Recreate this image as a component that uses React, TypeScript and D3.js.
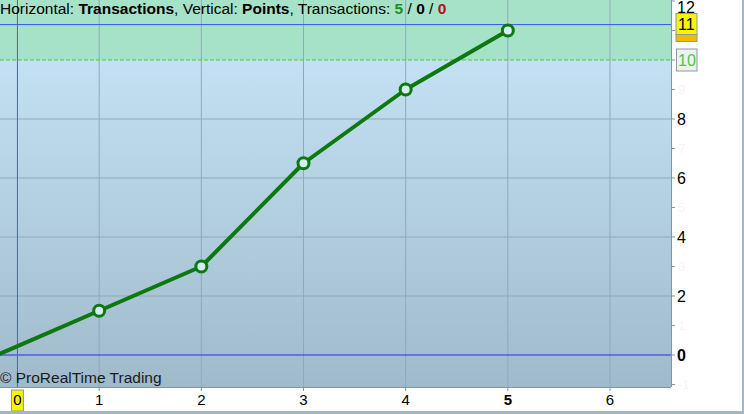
import React from "react";
import * as d3 from "d3";

const transactions = [0, 1, 2, 3, 4, 5];
const points = [0, 1.5, 3, 6.5, 9, 11];
const xTicks = [1, 2, 3, 4, 5, 6];
const yTicks = [0, 2, 4, 6, 8, 10, 11, 12];
const yMinorTicks = [-1, 1, 3, 5, 7, 9];
const zoneLevel = 10;
const maxLevel = 11.2;
const zeroLevel = 0;
const cursorX = 0.2;
const cursorLabel = "0";
const boldX = 5;

const W = 744;
const H = 414;
const plotR = 671;
const plotB = 387;

export default function App() {
  const x = d3.scaleLinear().domain([0, 6]).range([-3, 610]);
  const y = d3.scaleLinear().domain([0, 12]).range([355, 1]);
  const line = d3
    .line<number>()
    .x((_, i) => x(transactions[i]))
    .y((d) => y(d));
  const font = "'Liberation Sans', Arial, sans-serif";

  return (
    <div style={{ position: "fixed", left: 0, top: 0 }}>
      <svg width={W} height={H} style={{ display: "block", fontFamily: font }}>
        <defs>
          <linearGradient id="bg" x1="0" y1="0" x2="0" y2="1">
            <stop offset="0" stopColor="#cae8fa" />
            <stop offset="1" stopColor="#9fbacb" />
          </linearGradient>
          <clipPath id="plot">
            <rect x={0} y={0} width={plotR} height={plotB} />
          </clipPath>
        </defs>
        <rect x={0} y={0} width={W} height={H} fill="#ffffff" />
        <g clipPath="url(#plot)">
          <rect x={0} y={0} width={plotR} height={plotB} fill="url(#bg)" />
          <rect x={0} y={0} width={plotR} height={y(zoneLevel)} fill="#a6e2c8" />
          {[2, 4, 6, 8].map((v) => (
            <line key={"h" + v} x1={0} x2={plotR} y1={y(v)} y2={y(v)} stroke="#8ea9b9" strokeWidth={1} />
          ))}
          {xTicks.map((v) => (
            <line key={"v" + v} x1={x(v)} x2={x(v)} y1={0} y2={plotB} stroke="#8ea9b9" strokeWidth={1} />
          ))}
          <line x1={0} x2={plotR} y1={y(zoneLevel)} y2={y(zoneLevel)} stroke="#3fcf3f" strokeWidth={1} strokeDasharray="4,2" />
          <line x1={0} x2={plotR} y1={y(maxLevel)} y2={y(maxLevel)} stroke="#3355ee" strokeWidth={1} />
          <line x1={0} x2={plotR} y1={y(zeroLevel)} y2={y(zeroLevel)} stroke="#2a2aee" strokeWidth={1} />
          <line x1={x(cursorX)} x2={x(cursorX)} y1={0} y2={plotB} stroke="#4d6a98" strokeWidth={1} />
          <path d={line(points) || ""} fill="none" stroke="#0d780d" strokeWidth={4} strokeLinejoin="round" />
          {points.slice(1).map((v, i) => (
            <circle key={i} cx={x(transactions[i + 1])} cy={y(v)} r={5.5} fill="#d6ecf7" stroke="#0d780d" strokeWidth={3} />
          ))}
          <text x={0} y={383} fontSize={15.5} fill="#1a1a1a">© ProRealTime Trading</text>
          <text x={0} y={14} fontSize={15.5} fill="#000">
            <tspan>Horizontal: </tspan>
            <tspan fontWeight="bold">Transactions</tspan>
            <tspan>, Vertical: </tspan>
            <tspan fontWeight="bold">Points</tspan>
            <tspan>, Transactions: </tspan>
            <tspan fontWeight="bold" fill="#1f8f1f">5</tspan>
            <tspan> / </tspan>
            <tspan fontWeight="bold">0</tspan>
            <tspan> / </tspan>
            <tspan fontWeight="bold" fill="#b01010">0</tspan>
          </text>
        </g>
        <line x1={plotR + 0.5} x2={plotR + 0.5} y1={0} y2={plotB} stroke="#7d97a6" strokeWidth={1} />
        <line x1={0} x2={plotR} y1={plotB + 0.5} y2={plotB + 0.5} stroke="#7d97a6" strokeWidth={1} />
        {d3.range(-1, 13).map((v) => (
          <line key={"t" + v} x1={plotR} x2={plotR + 4} y1={y(v)} y2={y(v)} stroke="#7d97a6" strokeWidth={1} />
        ))}
        {yMinorTicks.map((v) => (
          <text key={"m" + v} x={678} y={y(v)} dy="0.35em" fontSize={13} fill="#f3f5f6">
            {v}
          </text>
        ))}
        {yTicks
          .filter((v) => v !== 11 && v !== 10)
          .map((v) => (
            <text key={"l" + v} x={677} y={v === 12 ? y(v) + 6 : y(v)} dy="0.36em" fontSize={16} fontWeight={v === 0 ? "bold" : "normal"} fill="#000">
              {v}
            </text>
          ))}
        <rect x={676} y={y(11) - 17} width={21} height={21} fill="#f9f400" stroke="#8a9aa0" />
        <rect x={676} y={y(11) + 4} width={21} height={7} fill="#f0bb00" stroke="#8a9aa0" />
        <text x={678} y={y(11) - 6} dy="0.36em" fontSize={16} fill="#000">11</text>
        <rect x={676.5} y={y(10) - 11} width={20.5} height={22} fill="#f0f0f0" stroke="#8a9aa0" />
        <text x={678} y={y(10)} dy="0.36em" fontSize={16} fill="#44cc44">10</text>
        {xTicks.map((v) => (
          <g key={"x" + v}>
            <line x1={x(v)} x2={x(v)} y1={plotB} y2={plotB + 4} stroke="#7d97a6" />
            <text x={x(v)} y={405} textAnchor="middle" fontSize={15} fontWeight={v === boldX ? "bold" : "normal"} fill="#000">
              {v}
            </text>
          </g>
        ))}
        <rect x={x(cursorX) - 6} y={390} width={12} height={21} fill="#f9f400" stroke="#8a9aa0" />
        <text x={x(cursorX)} y={405} textAnchor="middle" fontSize={15} fill="#000">{cursorLabel}</text>
        <rect x={0} y={411} width={W} height={3} fill="#a3b7c2" />
        <rect x={742} y={0} width={2} height={H} fill="#a3b7c2" />
      </svg>
    </div>
  );
}
